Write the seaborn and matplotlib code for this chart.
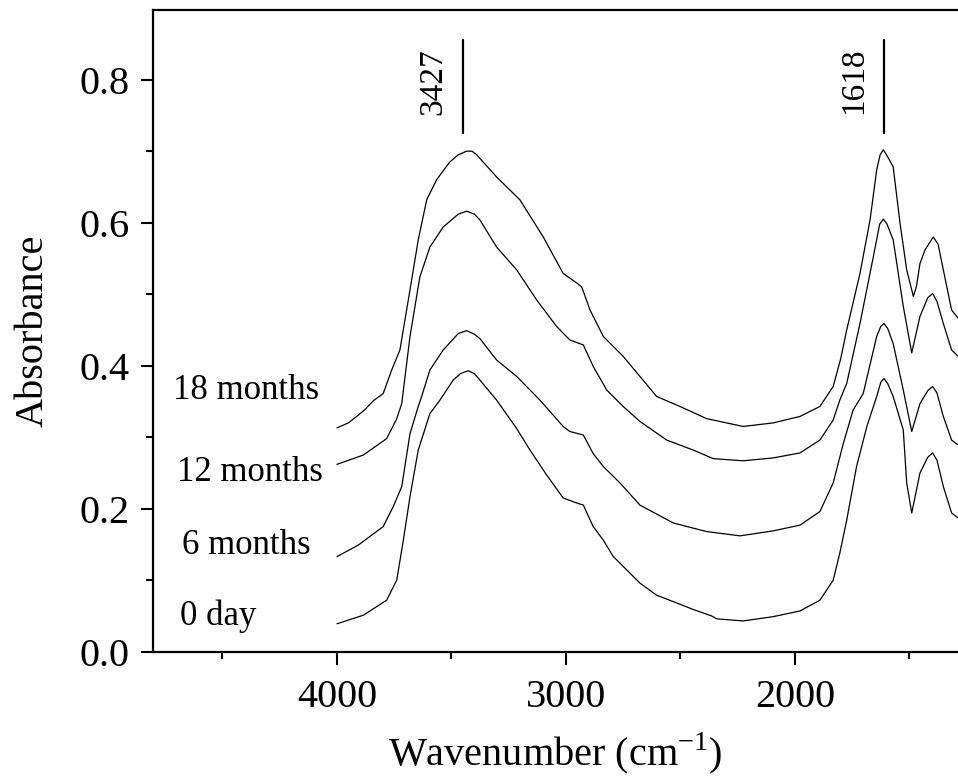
import pandas as pd
import matplotlib
matplotlib.use("Agg")
import matplotlib.pyplot as plt
import seaborn as sns

# ---- data ----
WN_18M = [4000, 3950, 3914, 3880, 3841, 3798, 3761, 3725, 3681, 3645, 3608, 3565, 3507, 3470,
          3434, 3410, 3390, 3303, 3201, 3099, 3012, 2950, 2931, 2895, 2837, 2750, 2677, 2604,
          2502, 2386, 2226, 2095, 1978, 1891, 1833, 1800, 1774, 1716, 1672, 1643, 1628, 1614,
          1600, 1571, 1541, 1512, 1483, 1470, 1454, 1432, 1396, 1375, 1352, 1316, 1287]
ABS_18M = [0.313, 0.320, 0.329, 0.338, 0.351, 0.361, 0.394, 0.422, 0.506, 0.576, 0.632, 0.660, 0.685, 0.695,
           0.700, 0.700, 0.695, 0.664, 0.632, 0.580, 0.529, 0.515, 0.510, 0.478, 0.441, 0.413, 0.385, 0.357,
           0.343, 0.326, 0.315, 0.320, 0.329, 0.343, 0.371, 0.410, 0.450, 0.529, 0.604, 0.674, 0.695, 0.702,
           0.695, 0.678, 0.599, 0.534, 0.497, 0.510, 0.543, 0.562, 0.580, 0.570, 0.534, 0.478, 0.466]

WN_12M = [4000, 3885, 3783, 3740, 3717, 3681, 3638, 3594, 3536, 3470, 3434, 3400, 3376, 3303,
          3215, 3128, 3041, 2983, 2924, 2881, 2822, 2750, 2677, 2560, 2444, 2357, 2226, 2095,
          1978, 1891, 1833, 1804, 1774, 1716, 1658, 1630, 1614, 1598, 1571, 1527, 1490, 1454,
          1420, 1399, 1380, 1352, 1316, 1287]
ABS_12M = [0.262, 0.275, 0.298, 0.325, 0.347, 0.441, 0.524, 0.566, 0.594, 0.612, 0.616, 0.612, 0.604, 0.566,
           0.534, 0.492, 0.455, 0.436, 0.429, 0.399, 0.366, 0.343, 0.322, 0.296, 0.282, 0.270, 0.267, 0.271,
           0.278, 0.296, 0.324, 0.352, 0.375, 0.459, 0.552, 0.598, 0.605, 0.598, 0.576, 0.483, 0.418, 0.469,
           0.495, 0.501, 0.490, 0.459, 0.422, 0.413]

WN_6M = [4000, 3907, 3798, 3754, 3717, 3681, 3645, 3630, 3594, 3536, 3470, 3434, 3400, 3376,
         3303, 3215, 3114, 3012, 2983, 2924, 2881, 2837, 2764, 2677, 2531, 2386, 2240, 2095,
         1978, 1891, 1833, 1789, 1746, 1702, 1643, 1625, 1611, 1595, 1571, 1527, 1490, 1454,
         1420, 1399, 1380, 1352, 1316, 1287]
ABS_6M = [0.133, 0.149, 0.175, 0.203, 0.231, 0.305, 0.343, 0.357, 0.394, 0.422, 0.445, 0.449, 0.444, 0.438,
          0.408, 0.385, 0.352, 0.315, 0.308, 0.303, 0.277, 0.259, 0.236, 0.205, 0.180, 0.168, 0.162, 0.169,
          0.177, 0.196, 0.236, 0.291, 0.338, 0.361, 0.441, 0.455, 0.459, 0.452, 0.431, 0.366, 0.308, 0.347,
          0.365, 0.371, 0.362, 0.329, 0.296, 0.289]

WN_0D = [4000, 3885, 3783, 3739, 3710, 3681, 3645, 3594, 3550, 3492, 3460, 3427, 3400, 3376,
         3303, 3215, 3157, 3084, 3012, 2953, 2924, 2881, 2837, 2793, 2721, 2677, 2604, 2531,
         2444, 2364, 2342, 2226, 2095, 1978, 1891, 1833, 1804, 1774, 1731, 1686, 1643, 1625,
         1611, 1595, 1571, 1527, 1512, 1490, 1454, 1420, 1399, 1380, 1352, 1316, 1287]
ABS_0D = [0.039, 0.051, 0.072, 0.100, 0.156, 0.217, 0.282, 0.333, 0.352, 0.380, 0.389, 0.393, 0.389, 0.380,
          0.352, 0.312, 0.282, 0.247, 0.215, 0.208, 0.205, 0.175, 0.156, 0.133, 0.110, 0.096, 0.079, 0.070,
          0.059, 0.050, 0.046, 0.043, 0.049, 0.057, 0.072, 0.100, 0.138, 0.184, 0.259, 0.315, 0.357, 0.377,
          0.382, 0.375, 0.357, 0.310, 0.236, 0.194, 0.250, 0.272, 0.278, 0.268, 0.231, 0.194, 0.187]

SERIES = ["18 months", "12 months", "6 months", "0 day"]
LABEL_X = [4716, 4700, 4678, 4686]
LABEL_Y = [0.353, 0.239, 0.137, 0.037]

PEAK_TEXT = ["3427", "1618"]
PEAK_X = [3450, 1612]

frames = []
for name, wn, ab in zip(SERIES, [WN_18M, WN_12M, WN_6M, WN_0D], [ABS_18M, ABS_12M, ABS_6M, ABS_0D]):
    frames.append(pd.DataFrame({"wn": wn, "absorbance": ab, "sample": name}))
df = pd.concat(frames, ignore_index=True)

sns.set_theme(style="ticks")
plt.rcParams.update({
    "font.family": ["Liberation Serif", "DejaVu Serif"],
    "mathtext.fontset": "custom",
    "mathtext.rm": "Liberation Serif",
    "text.color": "black",
    "axes.labelcolor": "black",
    "xtick.color": "black",
    "ytick.color": "black",
    "axes.edgecolor": "black",
})

fig = plt.figure(figsize=(9.58, 7.8), dpi=100)
ax = fig.add_axes([0.16, 0.1645, 0.84, 0.8227])

sns.lineplot(data=df, x="wn", y="absorbance", hue="sample", units="sample",
             estimator=None, palette=["black"] * 4, linewidth=0.9,
             legend=False, ax=ax)

ax.set_xlim(4802, 1288)
ax.set_ylim(0, 0.8975)

ax.set_xticks([4000, 3000, 2000])
ax.set_xticks([4500, 3500, 2500, 1500], minor=True)
ax.set_yticks([0.0, 0.2, 0.4, 0.6, 0.8])
ax.set_yticks([0.1, 0.3, 0.5, 0.7], minor=True)
ax.set_yticklabels(["0.0", "0.2", "0.4", "0.6", "0.8"])

ax.tick_params(which="major", direction="out", length=9, width=1.5, labelsize=29, pad=8)
ax.tick_params(which="minor", direction="out", length=5, width=1.5)
ax.tick_params(axis="x", which="major", pad=11)

for side in ["left", "bottom", "top"]:
    ax.spines[side].set_linewidth(1.6)
ax.spines["right"].set_visible(False)

ax.set_xlabel("Wavenumber (cm$^{\\mathrm{-1}}$)", fontsize=29, labelpad=10)
ax.set_ylabel("Absorbance", fontsize=29, labelpad=20)

for name, lx, ly in zip(SERIES, LABEL_X, LABEL_Y):
    ax.text(lx, ly, name, fontsize=25, ha="left", va="baseline")

# peak markers
for txt, px in zip(PEAK_TEXT, PEAK_X):
    ax.plot([px, px], [0.7255, 0.8555], color="black", linewidth=1.6)
    ax.text(px + 130, 0.798, txt, fontsize=24, rotation=90, ha="center", va="center")

fig.savefig("out.png", dpi=100)
